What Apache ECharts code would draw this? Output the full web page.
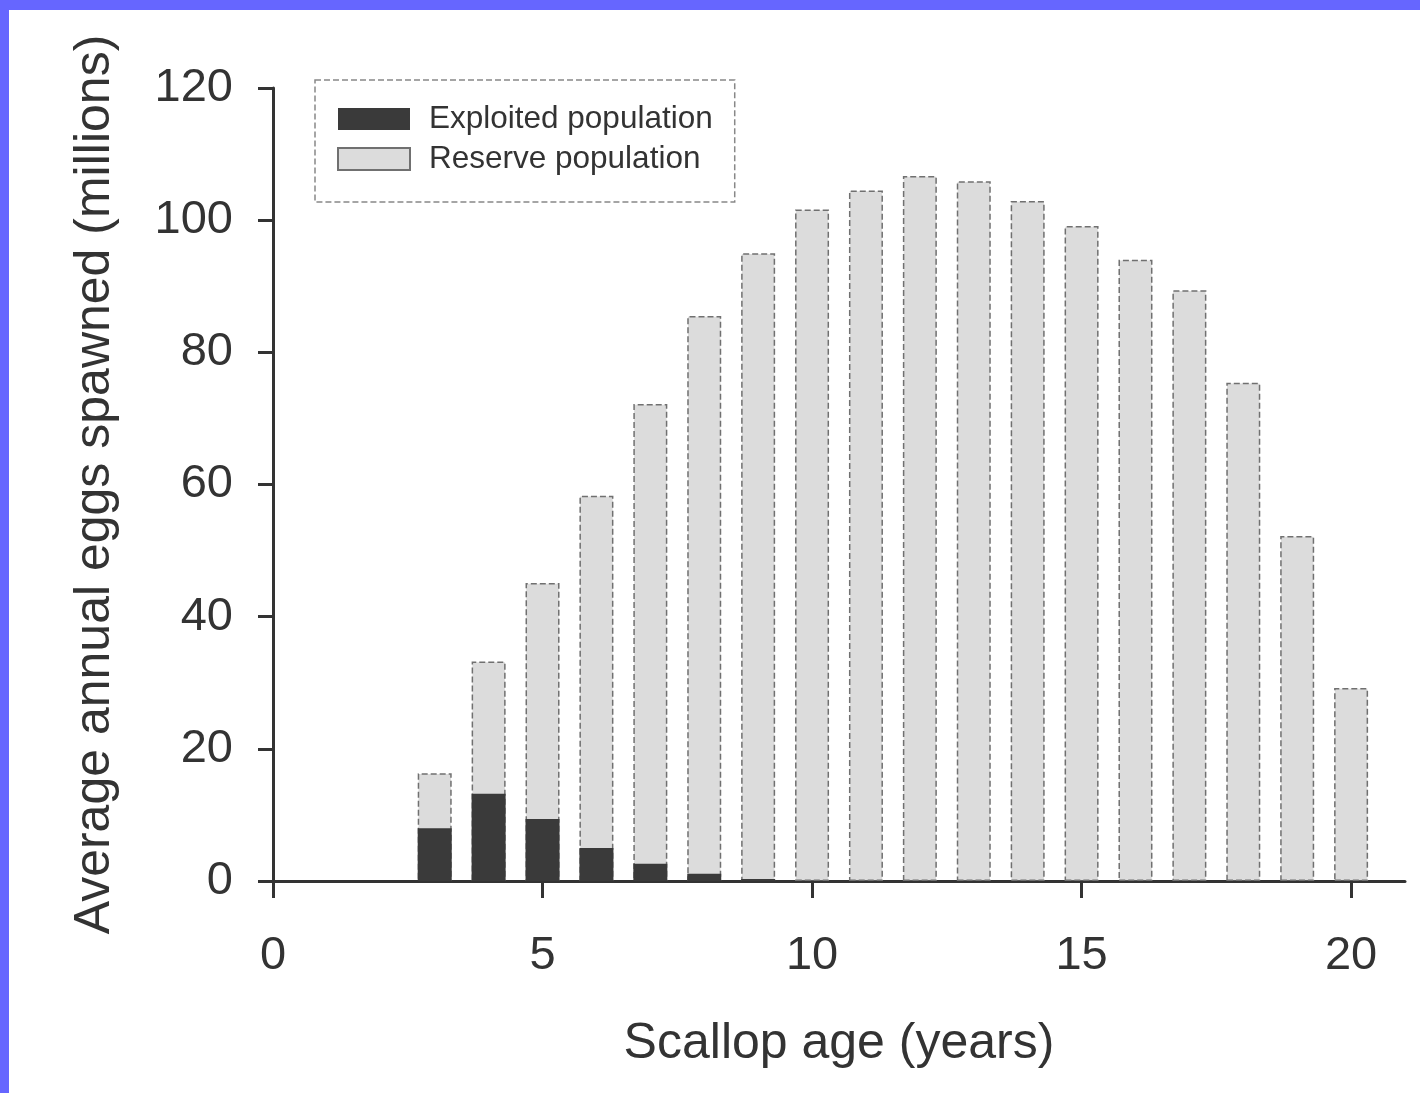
<!DOCTYPE html>
<html>
<head>
<meta charset="utf-8">
<script src="https://cdn.jsdelivr.net/npm/echarts@6/dist/echarts.min.js"></script>
<style>
html,body{margin:0;padding:0;background:#fff;}
#chart{width:1420px;height:1093px;}
</style>
</head>
<body>
<div id="chart"></div>
<script>
const ages = [3,4,5,6,7,8,9,10,11,12,13,14,15,16,17,18,19,20];
const reserveValues = [16.3,33.2,45.1,58.3,72.2,85.5,95.0,101.6,104.5,106.7,105.9,102.9,99.1,94.0,89.4,75.4,52.2,29.2];
const exploitedAges = [3,4,5,6,7,8,9];
const exploitedValues = [8.0,13.2,9.4,5.0,2.6,1.1,0.3];
const xTicks = [0,5,10,15,20];
const seriesNames = ['Exploited population','Reserve population'];

const chart = echarts.init(document.getElementById('chart'));
const font = 'Liberation Sans, Arial, Helvetica, sans-serif';
chart.setOption({
  backgroundColor: '#ffffff',
  animation: false,
  graphic: [
    {type:'rect', shape:{x:0,y:0,width:1420,height:10}, style:{fill:'#6666ff'}, z:100},
    {type:'rect', shape:{x:0,y:0,width:9,height:1093}, style:{fill:'#6666ff'}, z:100}
  ],
  grid: {left: 273, right: 15, top: 88, bottom: 212},
  legend: {
    data: seriesNames,
    icon: 'rect',
    orient: 'vertical',
    left: 315, top: 80,
    padding: [23, 22, 27, 22],
    itemGap: 8,
    itemWidth: 72, itemHeight: 22,
    borderColor: '#888', borderWidth: 1.5, borderType: 'dashed',
    textStyle: {fontFamily: font, fontSize: 31.5, color: '#333', lineHeight: 32, padding: [0,0,0,14]}
  },
  xAxis: {
    type: 'value', min: 0, max: 21,
    name: 'Scallop age (years)', nameLocation: 'middle', nameGap: 138,
    nameTextStyle: {fontFamily: font, fontSize: 50, color: '#333'},
    axisLine: {lineStyle: {color: '#333', width: 3}},
    axisTick: {customValues: xTicks, length: 17, lineStyle: {width: 3, color: '#333'}},
    axisLabel: {customValues: xTicks, fontFamily: font, fontSize: 47, color: '#333', margin: 52},
    splitLine: {show: false}
  },
  yAxis: {
    type: 'value', min: 0, max: 120, interval: 20,
    name: 'Average annual eggs spawned (millions)', nameLocation: 'middle', nameGap: 153,
    nameTextStyle: {fontFamily: font, fontSize: 50, color: '#333'},
    axisLine: {show: true, lineStyle: {color: '#333', width: 3}},
    axisTick: {show: true, length: 15, lineStyle: {width: 3, color: '#333'}},
    axisLabel: {fontFamily: font, fontSize: 47, color: '#333', margin: 40},
    splitLine: {show: false}
  },
  series: [
    {
      name: seriesNames[1], type: 'bar', barWidth: 34, barGap: '-100%',
      data: ages.map((a,i)=>[a, reserveValues[i]]),
      itemStyle: {color: '#dcdcdc', borderColor: '#707070', borderWidth: 1.5, borderType: 'dashed'}
    },
    {
      name: seriesNames[0], type: 'bar', barWidth: 34, barGap: '-100%',
      data: exploitedAges.map((a,i)=>[a, exploitedValues[i]]),
      itemStyle: {color: '#3a3a3a'}
    }
  ]
});
</script>
</body>
</html>
